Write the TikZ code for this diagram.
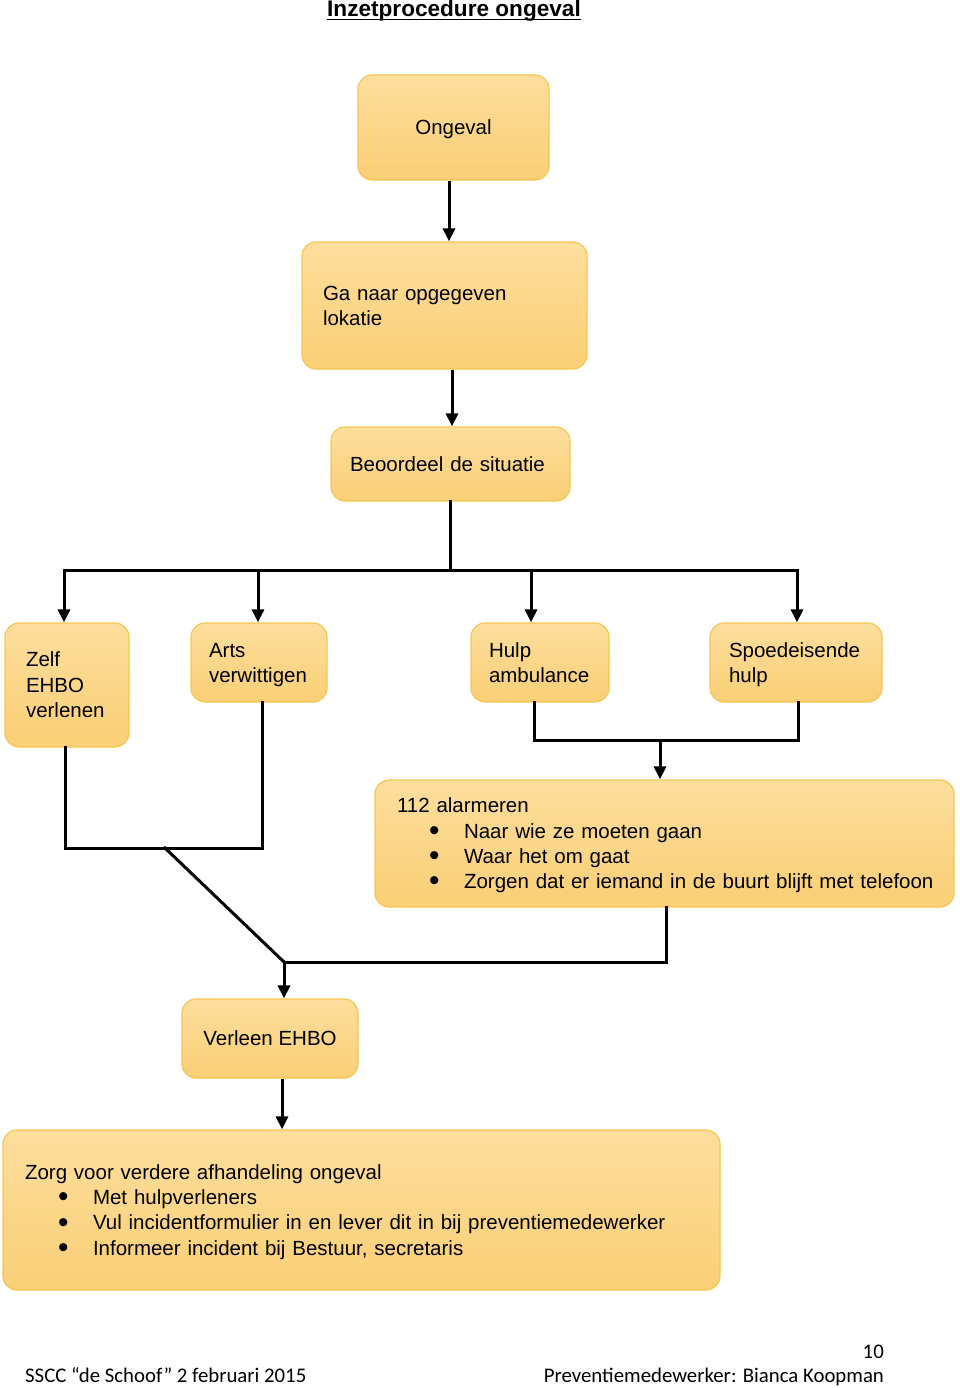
\documentclass[tikz,border=0pt]{standalone}
\usepackage{fontspec}
\setmainfont{Liberation Sans}
\newfontfamily\footfont{Carlito}
\usetikzlibrary{arrows.meta}
\definecolor{boxtop}{RGB}{253,222,157}
\definecolor{boxbot}{RGB}{250,207,118}
\definecolor{boxborder}{RGB}{244,199,82}
\newcommand\mainsz{\fontsize{20.5}{25.3}\selectfont}
\newcommand\titlesz{\fontsize{22.6}{26}\selectfont}
\newcommand\footsz{\fontsize{20.8}{24}\selectfont}
\newcommand\topfix{\rule{0pt}{19pt}}
\newcommand\botfix{\rule[-4.5pt]{0pt}{4.5pt}}
\newcommand\bul[2]{\makebox[#1][l]{\hspace{#2}\smash{\raisebox{-2.2pt}{\scalebox{1.45}{\textbullet}}}}}
\tikzset{
  box/.style={draw=boxborder, line width=1.2pt, rounded corners=14pt,
    top color=boxtop, bottom color=boxbot, font=\mainsz, inner ysep=0pt},
  cbox/.style={box, align=center},
  lbox/.style={box, align=left},
  conn/.style={line width=3pt, line cap=rect},
  arr/.style={line width=3pt, -{Triangle[length=13pt,width=12pt]}},
}
\begin{document}
\begin{tikzpicture}[x=1pt,y=-1pt]
\useasboundingbox (0,0) rectangle (960,1388);
\fill[white] (0,0) rectangle (960,1388);

\node[font=\bfseries\titlesz, anchor=base, inner sep=0] (title) at (454,17) {Inzetprocedure ongeval};
\draw[line width=1.8pt] ([yshift=-2.6pt]title.base west) -- ([yshift=-2.6pt]title.base east);

\node[cbox, minimum width=191pt, minimum height=105pt] (ong) at (453.5,127.5) {\topfix Ongeval\botfix};
\node[lbox, minimum width=285pt, minimum height=127pt, inner xsep=21pt, text width=243pt] (ga) at (444.5,305.5) {\topfix Ga naar opgegeven\\lokatie\botfix};
\node[lbox, minimum width=239pt, minimum height=74pt, inner xsep=19pt, text width=201pt] (beo) at (450.5,464) {\topfix\mbox{Beoordeel de situatie}\botfix};
\node[lbox, minimum width=124pt, minimum height=124pt, inner xsep=21pt, text width=82pt] (zelf) at (67,685) {\topfix Zelf\\EHBO\\verlenen\botfix};
\node[lbox, minimum width=136pt, minimum height=79pt, inner xsep=18pt, text width=100pt] (arts) at (259,662.5) {\topfix Arts\\\mbox{verwittigen}\botfix};
\node[lbox, minimum width=138pt, minimum height=79pt, inner xsep=18pt, text width=102pt] (hulp) at (540,662.5) {\topfix Hulp\\\mbox{ambulance}\botfix};
\node[lbox, minimum width=172pt, minimum height=79pt, inner xsep=19pt, text width=134pt] (spoed) at (796,662.5) {\topfix\mbox{Spoedeisende}\\hulp\botfix};
\node[lbox, minimum width=579pt, minimum height=127pt, inner xsep=22pt, text width=535pt] (alarm) at (664.5,843.5)
  {\topfix 112 alarmeren\\\bul{67pt}{32pt}Naar wie ze moeten gaan\\\bul{67pt}{32pt}Waar het om gaat\\\bul{67pt}{32pt}\mbox{Zorgen dat er iemand in de buurt blijft met telefoon}\botfix};
\node[cbox, minimum width=176pt, minimum height=79pt] (verleen) at (270,1038.5) {\topfix Verleen EHBO\botfix};
\node[lbox, minimum width=717pt, minimum height=160pt, inner xsep=22pt, text width=673pt] (zorg) at (361.5,1210)
  {\topfix Zorg voor verdere afhandeling ongeval\\\bul{68pt}{33pt}Met hulpverleners\\\bul{68pt}{33pt}\mbox{Vul incidentformulier in en lever dit in bij preventiemedewerker}\\\bul{68pt}{33pt}Informeer incident bij Bestuur, secretaris\botfix};

% coordinates
\coordinate (c1) at (449,0);
\coordinate (c2) at (452,0);
\coordinate (bus) at (450,570);
\coordinate (b1) at (64,570);
\coordinate (b2) at (258,570);
\coordinate (b3) at (531,570);
\coordinate (b4) at (797,570);
\coordinate (h1) at (534,740);
\coordinate (h2) at (798,740);
\coordinate (h3) at (660,740);
\coordinate (z1) at (65,848);
\coordinate (z2) at (262,848);
\coordinate (z3) at (165,848);
\coordinate (m1) at (284,962);
\coordinate (a1) at (666,962);
\coordinate (c9) at (282,0);

\draw[arr] (ong.south -| c1) -- (ga.north -| c1);
\draw[arr] (ga.south -| c2) -- (beo.north -| c2);
\draw[conn] (beo.south -| bus) -- (bus);
\draw[conn] (b1) -- (b4);
\draw[arr] (b1) -- (zelf.north -| b1);
\draw[arr] (b2) -- (arts.north -| b2);
\draw[arr] (b3) -- (hulp.north -| b3);
\draw[arr] (b4) -- (spoed.north -| b4);
\draw[conn] (hulp.south -| h1) -- (h1) -- (h2) -- (spoed.south -| h2);
\draw[arr] (h3) -- (alarm.north -| h3);
\draw[conn] (zelf.south -| z1) -- (z1) -- (z2) -- (arts.south -| z2);
\draw[conn] (z3) -- (m1);
\draw[conn] (alarm.south -| a1) -- (a1) -- (m1);
\draw[arr] (m1) -- (verleen.north -| m1);
\draw[arr] (verleen.south -| c9) -- (zorg.north -| c9);

% footer
\node[font=\footfont\footsz, anchor=base west, inner sep=0] (fl) at (25,1382) {SSCC “de Schoof” 2 februari 2015};
\node[font=\footfont\footsz, anchor=base east, inner sep=0] (fr) at (884,1382) {Preventiemedewerker: Bianca Koopman};
\node[font=\footfont\footsz, anchor=base east, inner sep=0] (pg) at (884,1358) {10};
\end{tikzpicture}
\end{document}
